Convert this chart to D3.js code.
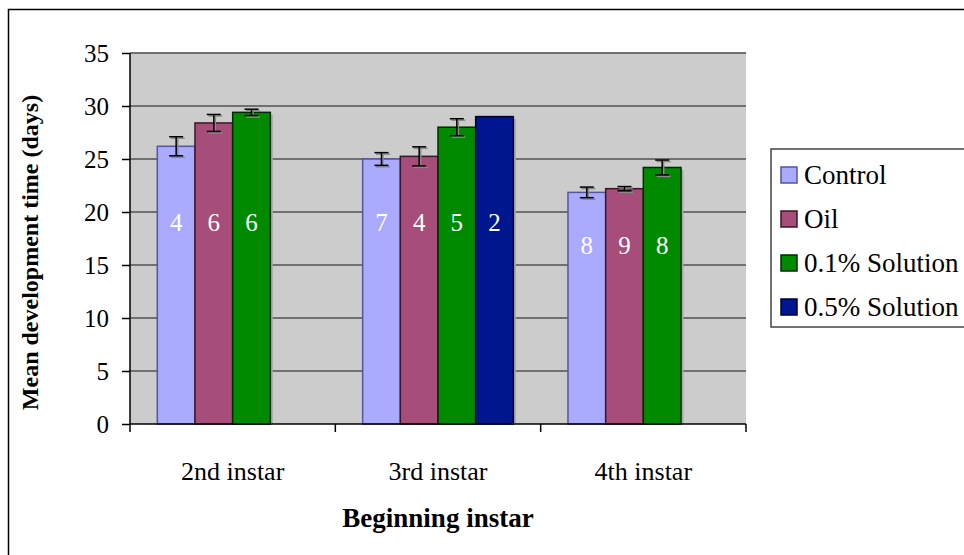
<!DOCTYPE html>
<html>
<head>
<meta charset="utf-8">
<script src="https://cdn.jsdelivr.net/npm/d3@7"></script>
<style>
  html, body { margin: 0; padding: 0; background: #fff; }
  svg { display: block; }
</style>
</head>
<body>
<svg id="chart" width="964" height="555"></svg>
<script>
// ---------- data ----------
const categories = ["2nd instar", "3rd instar", "4th instar"];
const seriesNames = ["Control", "Oil", "0.1% Solution", "0.5% Solution"];
const controlMeans = [26.2, 25.0, 21.85];
const oilMeans = [28.4, 25.25, 22.2];
const sol01Means = [29.4, 28.0, 24.2];
const sol05Means = [null, 29.0, null];
const controlErr = [0.9, 0.6, 0.5];
const oilErr = [0.8, 0.9, 0.2];
const sol01Err = [0.3, 0.8, 0.7];
const sol05Err = [null, 0, null];
const controlN = [4, 7, 8];
const oilN = [6, 4, 9];
const sol01N = [6, 5, 8];
const sol05N = [null, 2, null];
const labelLevel = [18.25, 18.25, 16.0]; // value level of sample-size labels per category
const yTicks = [0, 5, 10, 15, 20, 25, 30, 35];

const seriesColors = ["#AAAAFF", "#A64D79", "#008A00", "#00168F"];
const seriesStroke = ["#5555A0", "#3A1628", "#002A00", "#000030"];

const means = [controlMeans, oilMeans, sol01Means, sol05Means];
const errs = [controlErr, oilErr, sol01Err, sol05Err];
const ns = [controlN, oilN, sol01N, sol05N];

const SERIF = '"Liberation Serif", "Times New Roman", "DejaVu Serif", serif';

// ---------- layout ----------
const svg = d3.select("#chart");
const plot = { left: 130, right: 746, top: 53, bottom: 424 };

svg.append("rect").attr("x", 8.5).attr("y", 9.5).attr("width", 1000).attr("height", 1000)
  .attr("fill", "#fff").attr("stroke", "#000").attr("stroke-width", 1.5);

const x0 = d3.scaleBand().domain(categories).range([plot.left, plot.right]).padding(0);
const gap = x0.bandwidth() * 0.133;
const x1 = d3.scaleBand().domain(seriesNames).range([gap, x0.bandwidth() - gap]).padding(0);
const y = d3.scaleLinear().domain([0, 35]).range([plot.bottom, plot.top]);

// plot background
svg.append("rect").attr("x", plot.left).attr("y", plot.top)
  .attr("width", plot.right - plot.left).attr("height", plot.bottom - plot.top)
  .attr("fill", "#CCCCCC");

// gridlines
svg.append("g").selectAll("line").data(yTicks.filter(d => d > 0)).join("line")
  .attr("x1", plot.left).attr("x2", plot.right)
  .attr("y1", d => y(d)).attr("y2", d => y(d))
  .attr("stroke", "#707070").attr("stroke-width", 2);

// bars
const barData = [];
seriesNames.forEach((s, si) => {
  categories.forEach((c, ci) => {
    const v = means[si][ci];
    if (v !== null) barData.push({ s, si, c, ci, v, e: errs[si][ci], n: ns[si][ci] });
  });
});

const gBars = svg.append("g");
gBars.selectAll("rect.shadow").data(barData).join("rect").attr("class", "shadow")
  .attr("x", d => x0(d.c) + x1(d.s) + 2.5).attr("y", d => y(d.v) + 2.5)
  .attr("width", x1.bandwidth()).attr("height", d => y(0) - y(d.v) - 2.5)
  .attr("fill", "#A8A8A8");
gBars.selectAll("rect.bar").data(barData).join("rect").attr("class", "bar")
  .attr("x", d => x0(d.c) + x1(d.s)).attr("y", d => y(d.v))
  .attr("width", x1.bandwidth()).attr("height", d => y(0) - y(d.v))
  .attr("fill", d => seriesColors[d.si]).attr("stroke", d => seriesStroke[d.si]).attr("stroke-width", 1.5);

// error bars
const errData = barData.filter(d => d.e > 0);
function drawErr(g, dx, dy, color) {
  const sel = g.selectAll("g").data(errData).join("g");
  const cx = d => x0(d.c) + x1(d.s) + x1.bandwidth() / 2 + dx;
  sel.append("line").attr("x1", cx).attr("x2", cx)
    .attr("y1", d => y(d.v + d.e) + dy).attr("y2", d => y(d.v - d.e) + dy);
  sel.append("line").attr("x1", d => cx(d) - 7).attr("x2", d => cx(d) + 7)
    .attr("y1", d => y(d.v + d.e) + dy).attr("y2", d => y(d.v + d.e) + dy);
  sel.append("line").attr("x1", d => cx(d) - 7).attr("x2", d => cx(d) + 7)
    .attr("y1", d => y(d.v - d.e) + dy).attr("y2", d => y(d.v - d.e) + dy);
  sel.selectAll("line").attr("stroke", color).attr("stroke-width", 1.5);
}
drawErr(svg.append("g"), 1.5, 1.5, "#8a8a8a");
drawErr(svg.append("g"), 0, 0, "#000");

// n labels
svg.append("g").selectAll("text").data(barData).join("text")
  .attr("x", d => x0(d.c) + x1(d.s) + x1.bandwidth() / 2)
  .attr("y", d => y(labelLevel[d.ci]))
  .attr("text-anchor", "middle").attr("fill", "#fff").attr("font-size", 25)
  .text(d => d.n);

// y axis
const yAxis = svg.append("g").attr("transform", `translate(${plot.left},0)`)
  .call(d3.axisLeft(y).tickValues(yTicks).tickSize(8).tickPadding(13).tickFormat(d3.format("d")));
yAxis.select(".domain").attr("stroke", "#000").attr("stroke-width", 1.5).attr("d", `M0,${plot.top}V${plot.bottom}`);
yAxis.selectAll(".tick line").attr("stroke", "#000").attr("stroke-width", 1.5);
yAxis.selectAll(".tick text").attr("font-size", 25).attr("fill", "#000");

// x axis
const xAxis = svg.append("g").attr("transform", `translate(0,${plot.bottom})`)
  .call(d3.axisBottom(x0).tickSize(0).tickPadding(38));
xAxis.select(".domain").attr("stroke", "#000").attr("stroke-width", 1.5).attr("d", `M${plot.left},0H${plot.right}`);
xAxis.selectAll(".tick text").attr("font-size", 26).attr("fill", "#000");
const boundaries = [plot.left].concat(categories.map(c => x0(c) + x0.bandwidth()));
xAxis.append("g").selectAll("line").data(boundaries).join("line")
  .attr("x1", d => d).attr("x2", d => d).attr("y1", 0).attr("y2", 8)
  .attr("stroke", "#000").attr("stroke-width", 1.5);

// titles
svg.append("text").attr("x", (plot.left + plot.right) / 2).attr("y", 527)
  .attr("text-anchor", "middle").attr("font-size", 27).attr("font-weight", "bold")
  .text("Beginning instar");
svg.append("text").attr("transform", `translate(38,${(plot.top + plot.bottom) / 2 + 14}) rotate(-90)`)
  .attr("text-anchor", "middle").attr("font-size", 24).attr("font-weight", "bold")
  .text("Mean development time (days)");

// legend
const leg = svg.append("g");
leg.append("rect").attr("x", 771).attr("y", 149).attr("width", 300).attr("height", 178)
  .attr("fill", "#fff").attr("stroke", "#444").attr("stroke-width", 1.5);
const legItems = leg.selectAll("g.item").data(seriesNames).join("g").attr("class", "item")
  .attr("transform", (d, i) => `translate(781,${175 + i * 44})`);
legItems.append("rect").attr("x", 0).attr("y", -8).attr("width", 16).attr("height", 16)
  .attr("fill", (d, i) => seriesColors[i]).attr("stroke", (d, i) => seriesStroke[i]).attr("stroke-width", 1.5);
legItems.append("text").attr("x", 23).attr("y", 9).attr("font-size", 27).attr("fill", "#000")
  .text(d => d);

// serif font everywhere
svg.selectAll("g").attr("font-family", null);
svg.selectAll("text").style("font-family", SERIF);
</script>
</body>
</html>
